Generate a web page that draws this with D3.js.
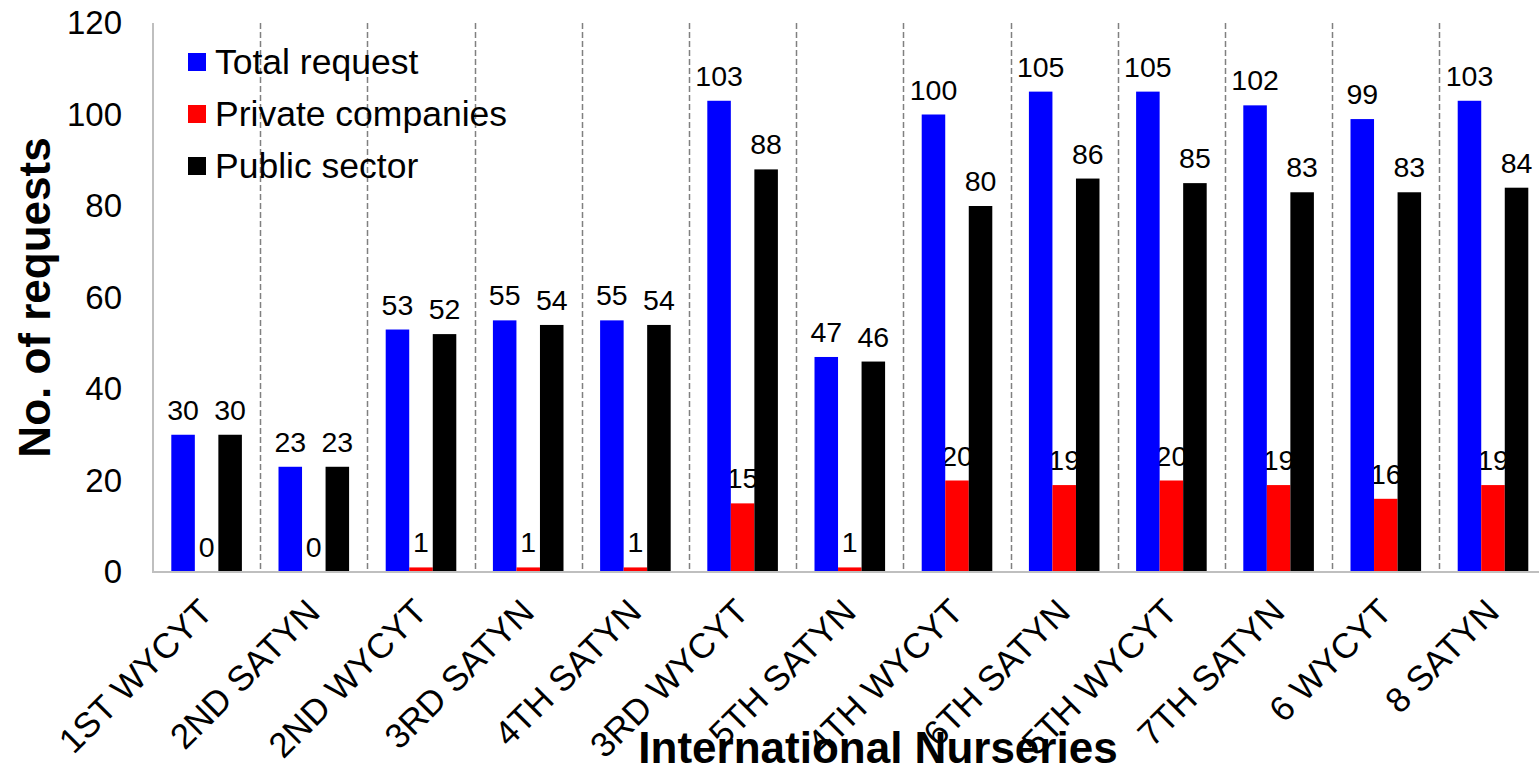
<!DOCTYPE html>
<html>
<head>
<meta charset="utf-8">
<script src="https://cdn.jsdelivr.net/npm/d3@7"></script>
<style>
  html, body { margin: 0; padding: 0; background: #fff; }
  svg { display: block; font-family: "Liberation Sans", Arial, sans-serif; }
</style>
</head>
<body>
<svg id="chart" width="1539" height="772"></svg>
<script>
// Nursery names along the category axis
const categories = ["1ST WYCYT", "2ND SATYN", "2ND WYCYT", "3RD SATYN", "4TH SATYN",
  "3RD WYCYT", "5TH SATYN", "4TH WYCYT", "6TH SATYN", "5TH WYCYT", "7TH SATYN",
  "6 WYCYT", "8 SATYN"];

// Request counts per nursery
const totalRequest = [30, 23, 53, 55, 55, 103, 47, 100, 105, 105, 102, 99, 103];
const privateCompanies = [0, 0, 1, 1, 1, 15, 1, 20, 19, 20, 19, 16, 19];
const publicSector = [30, 23, 52, 54, 54, 88, 46, 80, 86, 85, 83, 83, 84];

const seriesNames = ["Total request", "Private companies", "Public sector"];
const seriesColors = ["#0000ff", "#ff0000", "#000000"];
const yTicks = [0, 20, 40, 60, 80, 100, 120];

const seriesValues = [totalRequest, privateCompanies, publicSector];
const rows = categories.map((c, i) => ({
  cat: c,
  vals: seriesNames.map((s, k) => ({ series: s, k, value: seriesValues[k][i] }))
}));

const svg = d3.select("#chart");
const plot = { left: 153, right: 1546.6, top: 23, bottom: 572 };

const x0 = d3.scaleBand().domain(categories).range([plot.left, plot.right]).padding(0);
const step = x0.bandwidth();
const barW = step * 0.2195;
const x1 = d3.scaleBand().domain(seriesNames)
  .range([step / 2 - 1.5 * barW, step / 2 + 1.5 * barW]).padding(0);
const y = d3.scaleLinear().domain([0, 120]).range([plot.bottom, plot.top]);
const color = d3.scaleOrdinal().domain(seriesNames).range(seriesColors);

// Dashed separators between categories
svg.append("g")
  .selectAll("line")
  .data(categories.slice(1))
  .join("line")
  .attr("x1", d => Math.round(x0(d)) + 0.5)
  .attr("x2", d => Math.round(x0(d)) + 0.5)
  .attr("y1", plot.top)
  .attr("y2", plot.bottom)
  .attr("stroke", "#808080")
  .attr("stroke-width", 1.5)
  .attr("stroke-dasharray", "6,3");

// Value labels (drawn beneath the bars)
const labelG = svg.append("g")
  .attr("font-size", 28.5)
  .attr("fill", "#000")
  .attr("text-anchor", "middle");
rows.forEach(r => {
  labelG.selectAll(null)
    .data(r.vals)
    .join("text")
    .attr("x", d => x0(r.cat) + x1(d.series) + barW / 2)
    .attr("y", d => y(d.value) - 15)
    .text(d => d.value);
});

// Bars
const barG = svg.append("g");
rows.forEach(r => {
  barG.selectAll(null)
    .data(r.vals)
    .join("rect")
    .attr("x", d => x0(r.cat) + x1(d.series))
    .attr("y", d => y(d.value))
    .attr("width", barW)
    .attr("height", d => y(0) - y(d.value))
    .attr("fill", d => color(d.series));
});

// Axis lines
svg.append("line")
  .attr("x1", plot.left).attr("x2", plot.left)
  .attr("y1", plot.top).attr("y2", plot.bottom)
  .attr("stroke", "#bfbfbf").attr("stroke-width", 2);
svg.append("line")
  .attr("x1", plot.left - 1).attr("x2", 1539)
  .attr("y1", plot.bottom).attr("y2", plot.bottom)
  .attr("stroke", "#bfbfbf").attr("stroke-width", 2);

// Y axis tick labels
const yAxis = d3.axisLeft(y).tickValues(yTicks).tickSize(0).tickPadding(31);
svg.append("g")
  .attr("transform", `translate(${plot.left},0)`)
  .call(yAxis)
  .call(g => g.select(".domain").remove())
  .call(g => g.selectAll("text")
    .attr("font-size", 33)
    .attr("font-family", "Liberation Sans, Arial, sans-serif")
    .attr("fill", "#000"));

// X axis tick labels, rotated
const xAxis = d3.axisBottom(x0).tickSize(0).tickPadding(0);
svg.append("g")
  .attr("transform", `translate(0,${plot.bottom})`)
  .call(xAxis)
  .call(g => g.select(".domain").remove())
  .call(g => g.selectAll("text")
    .attr("font-size", 35)
    .attr("font-family", "Liberation Sans, Arial, sans-serif")
    .attr("fill", "#000")
    .attr("text-anchor", "end")
    .attr("dy", null)
    .attr("y", 0)
    .attr("transform", "translate(8,42) rotate(-45)"));

// Axis titles
svg.append("text")
  .attr("transform", "translate(50,297.5) rotate(-90)")
  .attr("text-anchor", "middle")
  .attr("font-size", 44)
  .attr("font-weight", "bold")
  .text("No. of requests");

svg.append("text")
  .attr("x", 878)
  .attr("y", 763)
  .attr("text-anchor", "middle")
  .attr("font-size", 44)
  .attr("font-weight", "bold")
  .text("International Nurseries");

// Legend
const legend = svg.append("g").attr("transform", "translate(188,62)");
const items = legend.selectAll("g")
  .data(seriesNames)
  .join("g")
  .attr("transform", (d, i) => `translate(0,${i * 52})`);
items.append("rect")
  .attr("x", 0).attr("y", -9)
  .attr("width", 18).attr("height", 18)
  .attr("fill", d => color(d));
items.append("text")
  .attr("x", 27)
  .attr("y", 11.5)
  .attr("font-size", 35.5)
  .text(d => d);
</script>
</body>
</html>
